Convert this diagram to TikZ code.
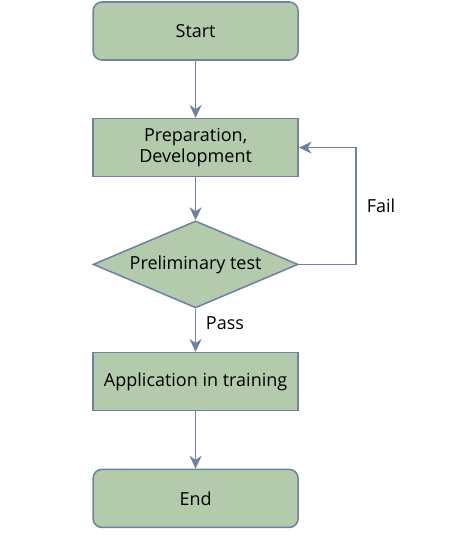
\documentclass[tikz,border=0pt]{standalone}
\usepackage{fontspec}
\setmainfont{Open Sans}
\usetikzlibrary{shapes.geometric,arrows.meta}
\definecolor{boxfill}{RGB}{179,203,172}
\definecolor{boxline}{RGB}{112,130,160}
\begin{document}
\begin{tikzpicture}[
        box/.style = {rectangle, draw=boxline, fill=boxfill, line width=1.1pt, minimum width=5.125cm, minimum height=1.45cm, align=center, font=\fontsize{12.8}{15}\selectfont},
        terminal/.style = {box, rounded corners=0.22cm},
        decision/.style = {box, diamond, aspect=2.356, minimum width=5.125cm, minimum height=2.175cm, inner sep=0pt},
        arrow/.style = {draw=boxline, line width=1.1pt, -{Stealth[length=0.32cm, width=0.3cm, inset=0.1cm]}},
        label/.style = {font=\fontsize{12.8}{15}\selectfont}
    ]
    \useasboundingbox (0,0) rectangle (11.3,-13.425);

    % ================= NODES =================
    \node[terminal] (start) at (4.89, -0.775) {Start};
    \node[box] (prep) at (4.89, -3.69) {Preparation,\\Development};
    \node[decision] (test) at (4.89, -6.61) {Preliminary test};
    \node[box] (apply) at (4.89, -9.54) {Application in training};
    \node[terminal] (finish) at (4.89, -12.46) {End};

    \coordinate (loop) at (8.9, -6.61);

    % ================= ARROWS =================
    \draw[arrow] (start) -- (prep);
    \draw[arrow] (prep) -- (test);
    \draw[arrow] (test) -- (apply);
    \draw[arrow] (apply) -- (finish);
    \draw[arrow] (test.east) -- (loop) |- (prep.east |- 0,-3.69);

    % Etiquetas
    \node[label] (fail) at (9.525, -5.15) {Fail};
    \node[label] (pass) at (5.625, -8.075) {Pass};

    \end{tikzpicture}
\end{document}
